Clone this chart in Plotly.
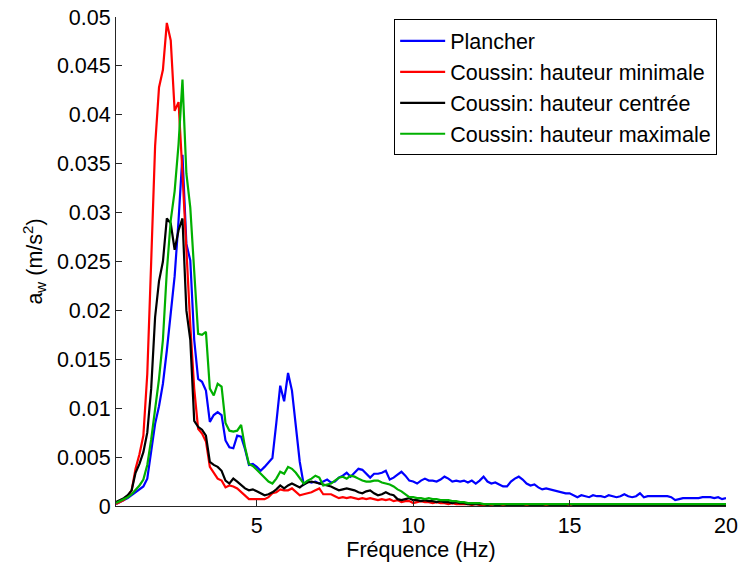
import plotly.graph_objects as go

# frequency grid (Hz): 0.5 to 20 with 0.125 Hz resolution
f_start = 0.5
f_step = 0.125

plancher = [
    0.0002, 0.0004, 0.0006, 0.0008, 0.0011, 0.0014, 0.0017, 0.0020,
    0.0028, 0.0057, 0.0084, 0.0102, 0.0125, 0.0159, 0.0200, 0.0235,
    0.0292, 0.0359, 0.0268, 0.0251, 0.0170, 0.0130, 0.0127, 0.0118,
    0.0086, 0.0093, 0.0096, 0.0093, 0.0067, 0.0060, 0.0059, 0.0072,
    0.0071, 0.0058, 0.0042, 0.0043, 0.0040, 0.0036, 0.0040, 0.0044,
    0.0049, 0.0085, 0.0123, 0.0107, 0.0136, 0.0118, 0.0078, 0.0045,
    0.0022, 0.0025, 0.0024, 0.0025, 0.0023, 0.0025, 0.0027, 0.0024,
    0.0025, 0.0029, 0.0031, 0.0034, 0.0030, 0.0034, 0.0038, 0.0037,
    0.0033, 0.0029, 0.0033, 0.0033, 0.0034, 0.0036, 0.0027, 0.0029,
    0.0032, 0.0035, 0.0031, 0.0026, 0.0025, 0.0023, 0.0026, 0.0028,
    0.0026, 0.0026, 0.0025, 0.0027, 0.0030, 0.0028, 0.0025, 0.0026,
    0.0025, 0.0026, 0.0024, 0.0026, 0.0023, 0.0026, 0.0030, 0.0025,
    0.0023, 0.0024, 0.0022, 0.0020, 0.0020, 0.0025, 0.0028, 0.0030,
    0.0027, 0.0023, 0.0021, 0.0022, 0.0019, 0.0017, 0.0018, 0.0017,
    0.0016, 0.0015, 0.0014, 0.0013, 0.0013, 0.0011, 0.0009, 0.0011,
    0.0010, 0.0009, 0.0011, 0.0010, 0.0010, 0.0009, 0.0011, 0.0010,
    0.0009, 0.0010, 0.0012, 0.0010, 0.0009, 0.0010, 0.0013, 0.0009,
    0.0010, 0.0010, 0.0010, 0.0010, 0.0010, 0.0010, 0.0009, 0.0006,
    0.0007, 0.0008, 0.0008, 0.0008, 0.0008, 0.0008, 0.0009, 0.0009,
    0.0009, 0.0008, 0.0009, 0.0007, 0.0008,
]

coussin_min = [
    0.0002, 0.0004, 0.0006, 0.0010, 0.0016, 0.0038, 0.0053, 0.0072,
    0.0135, 0.0250, 0.0368, 0.0428, 0.0446, 0.0494, 0.0476, 0.0404,
    0.0413, 0.0340, 0.0260, 0.0185, 0.0120, 0.0079, 0.0074, 0.0066,
    0.0040, 0.0034, 0.0028, 0.0026, 0.0019, 0.0021, 0.0020, 0.0018,
    0.0014, 0.0010, 0.0007, 0.0007, 0.0007, 0.0007, 0.0007, 0.0009,
    0.0013, 0.0014, 0.0017, 0.0016, 0.0016, 0.0018, 0.0014, 0.0011,
    0.0012, 0.0013, 0.0014, 0.0016, 0.0018, 0.0012, 0.0012, 0.0012,
    0.0010, 0.0008, 0.0009, 0.0008, 0.0009, 0.0008, 0.0007, 0.0008,
    0.0007, 0.0008, 0.0007, 0.0006, 0.0007, 0.0006, 0.0007, 0.0005,
    0.0006, 0.0004, 0.0005, 0.0005, 0.0003, 0.0004, 0.0005, 0.0004,
    0.0004, 0.0003, 0.0004, 0.0003, 0.0003, 0.0002, 0.0003, 0.0002,
    0.0002, 0.0002, 0.0002, 0.0001, 0.0002, 0.0001, 0.0001, 0.0001,
    0.0001, 0.0002, 0.0001, 0.0001, 0.0001, 0.0002, 0.0001, 0.0001,
    0.0001, 0.0001, 0.0001, 0.0002, 0.0001, 0.0001, 0.0001, 0.0001,
    0.0002, 0.0001, 0.0001, 0.0001, 0.0001, 0.0002, 0.0001, 0.0001,
    0.0001, 0.0001, 0.0001, 0.0001, 0.0001, 0.0001, 0.0001, 0.0001,
    0.0001, 0.0001, 0.0002, 0.0001, 0.0001, 0.0001, 0.0001, 0.0001,
    0.0001, 0.0001, 0.0001, 0.0001, 0.0001, 0.0001, 0.0001, 0.0001,
    0.0001, 0.0001, 0.0001, 0.0001, 0.0001, 0.0001, 0.0001, 0.0001,
    0.0001, 0.0001, 0.0001, 0.0001, 0.0001,
]

coussin_centre = [
    0.0004, 0.0006, 0.0008, 0.0011, 0.0016, 0.0034, 0.0043, 0.0055,
    0.0075, 0.0120, 0.0193, 0.0230, 0.0250, 0.0294, 0.0289, 0.0262,
    0.0282, 0.0294, 0.0200, 0.0170, 0.0087, 0.0081, 0.0078, 0.0072,
    0.0045, 0.0042, 0.0040, 0.0036, 0.0026, 0.0023, 0.0028, 0.0025,
    0.0021, 0.0018, 0.0016, 0.0017, 0.0015, 0.0013, 0.0011, 0.0012,
    0.0014, 0.0017, 0.0021, 0.0018, 0.0021, 0.0023, 0.0021, 0.0019,
    0.0022, 0.0024, 0.0025, 0.0024, 0.0023, 0.0022, 0.0021, 0.0020,
    0.0018, 0.0016, 0.0017, 0.0018, 0.0017, 0.0016, 0.0014, 0.0013,
    0.0015, 0.0016, 0.0013, 0.0011, 0.0012, 0.0014, 0.0012, 0.0011,
    0.0007, 0.0006, 0.0007, 0.0008, 0.0006, 0.0006, 0.0005, 0.0006,
    0.0005, 0.0005, 0.0004, 0.0005, 0.0004, 0.0004, 0.0003, 0.0004,
    0.0003, 0.0003, 0.0002, 0.0002, 0.0002, 0.0002, 0.0002, 0.0001,
    0.0002, 0.0001, 0.0001, 0.0002, 0.0001, 0.0001, 0.0001, 0.0001,
    0.0001, 0.0002, 0.0001, 0.0001, 0.0001, 0.0001, 0.0002, 0.0001,
    0.0001, 0.0001, 0.0001, 0.0001, 0.0002, 0.0001, 0.0001, 0.0001,
    0.0001, 0.0001, 0.0001, 0.0001, 0.0001, 0.0001, 0.0001, 0.0001,
    0.0001, 0.0001, 0.0001, 0.0001, 0.0001, 0.0001, 0.0001, 0.0001,
    0.0001, 0.0001, 0.0001, 0.0001, 0.0001, 0.0001, 0.0001, 0.0001,
    0.0001, 0.0001, 0.0001, 0.0001, 0.0001, 0.0001, 0.0001, 0.0001,
    0.0001, 0.0001, 0.0001, 0.0001, 0.0001,
]

coussin_max = [
    0.0003, 0.0005, 0.0007, 0.0009, 0.0012, 0.0016, 0.0021, 0.0027,
    0.0042, 0.0068, 0.0098, 0.0130, 0.0170, 0.0240, 0.0292, 0.0322,
    0.0370, 0.0436, 0.0340, 0.0305, 0.0240, 0.0176, 0.0175, 0.0178,
    0.0120, 0.0113, 0.0125, 0.0122, 0.0085, 0.0077, 0.0076, 0.0077,
    0.0083, 0.0060, 0.0043, 0.0041, 0.0037, 0.0033, 0.0028, 0.0025,
    0.0023, 0.0028, 0.0035, 0.0033, 0.0040, 0.0038, 0.0034, 0.0028,
    0.0023, 0.0026, 0.0028, 0.0031, 0.0029, 0.0021, 0.0022, 0.0023,
    0.0026, 0.0029, 0.0030, 0.0028, 0.0031, 0.0030, 0.0028, 0.0026,
    0.0025, 0.0025, 0.0026, 0.0026, 0.0024, 0.0023, 0.0022, 0.0020,
    0.0017, 0.0015, 0.0012, 0.0009, 0.0009, 0.0008, 0.0008, 0.0007,
    0.0008, 0.0007, 0.0007, 0.0006, 0.0006, 0.0006, 0.0005, 0.0005,
    0.0004, 0.0004, 0.0003, 0.0003, 0.0003, 0.0003, 0.0002, 0.0002,
    0.0002, 0.0002, 0.0002, 0.0002, 0.0002, 0.0002, 0.0002, 0.0002,
    0.0002, 0.0002, 0.0002, 0.0002, 0.0002, 0.0002, 0.0002, 0.0002,
    0.0002, 0.0002, 0.0002, 0.0002, 0.0002, 0.0002, 0.0002, 0.0002,
    0.0002, 0.0002, 0.0002, 0.0002, 0.0002, 0.0002, 0.0002, 0.0002,
    0.0002, 0.0002, 0.0002, 0.0002, 0.0002, 0.0002, 0.0002, 0.0002,
    0.0002, 0.0002, 0.0002, 0.0002, 0.0002, 0.0002, 0.0002, 0.0002,
    0.0002, 0.0002, 0.0002, 0.0002, 0.0002, 0.0002, 0.0002, 0.0002,
    0.0002, 0.0002, 0.0002, 0.0002, 0.0002,
]

series_names = [
    "Plancher",
    "Coussin: hauteur minimale",
    "Coussin: hauteur centrée",
    "Coussin: hauteur maximale",
]
series_values = [plancher, coussin_min, coussin_centre, coussin_max]
series_colors = ["#0000FF", "#FF0000", "#000000", "#00B000"]

x_ticks = [5, 10, 15, 20]

FONT = "Liberation Sans, Arial, Helvetica, sans-serif"
FS = 21.5

fig = go.Figure()
for name, vals, col in zip(series_names, series_values, series_colors):
    freq = [f_start + f_step * i for i in range(len(vals))]
    fig.add_trace(go.Scatter(x=freq, y=vals, mode="lines", name=name,
                             line=dict(color=col, width=2.2)))

axis_common = dict(showline=True, linecolor="#262626", linewidth=1,
                   ticks="inside", ticklen=6, tickcolor="#262626",
                   showgrid=False, zeroline=False, automargin=False,
                   tickfont=dict(family=FONT, size=FS, color="black"))

fig.update_layout(
    width=739, height=562,
    margin=dict(l=116, r=13, t=17, b=56),
    paper_bgcolor="white", plot_bgcolor="white",
    font=dict(family=FONT, size=FS, color="black"),
    xaxis=dict(range=[0.5, 20], tickvals=x_ticks,
               title=dict(text="Fréquence (Hz)", standoff=1,
                          font=dict(family=FONT, size=FS)),
               **axis_common),
    yaxis=dict(range=[0, 0.05], tick0=0, dtick=0.005,
               title=dict(text="a<sub>w</sub> (m/s<sup>2</sup>)", standoff=8,
                          font=dict(family=FONT, size=FS)),
               **axis_common),
    legend=dict(x=0.456, y=0.995, xanchor="left", yanchor="top",
                bordercolor="black", borderwidth=1, bgcolor="white",
                itemwidth=45,
                font=dict(family=FONT, size=FS), tracegroupgap=0),
    showlegend=True,
)

fig.write_html("out.html")
